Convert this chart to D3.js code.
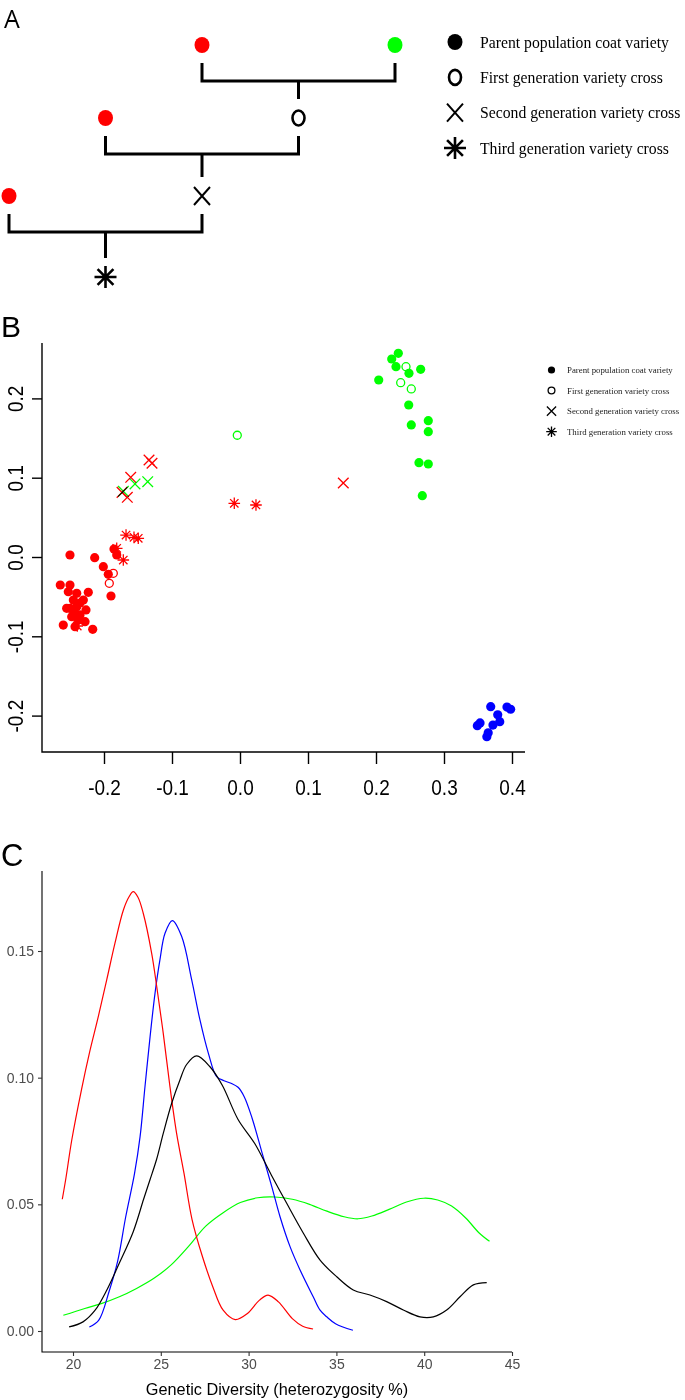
<!DOCTYPE html>
<html><head><meta charset="utf-8">
<script src="https://cdn.jsdelivr.net/npm/d3@7"></script>
<style>body{margin:0;background:#fff}svg{display:block}</style>
</head><body><svg id="c" width="685" height="1400"></svg>
<script>
// ---------- DATA ----------
// Panel A: crossing scheme
const crossNodes = [
  {gen:0, col:2, type:"parent", color:"#ff0000"},
  {gen:0, col:4, type:"parent", color:"#00ff00"},
  {gen:1, col:1, type:"parent", color:"#ff0000"},
  {gen:1, col:3, type:"first",  color:"#000"},
  {gen:2, col:0, type:"parent", color:"#ff0000"},
  {gen:2, col:2, type:"second", color:"#000"},
  {gen:3, col:1, type:"third",  color:"#000"}
];
const crosses = [
  {gen:0, left:2, right:4, child:3},
  {gen:1, left:1, right:3, child:2},
  {gen:2, left:0, right:2, child:1}
];
const legendTypes = ["parent","first","second","third"];
const legendLabels = ["Parent population coat variety","First generation variety cross","Second generation variety cross","Third generation variety cross"];

// Panel B: PCA coordinates [PC1, PC2]
const parentRed = [[-0.250,0.0025],[-0.2137,-0.0009],[-0.201,-0.0122],[-0.1937,-0.0218],[-0.1897,-0.0492],[-0.1853,0.0101],[-0.1813,0.0025],[-0.2643,-0.0353],[-0.250,-0.0353],[-0.2231,-0.0445],[-0.2401,-0.0458],[-0.2525,-0.0438],[-0.2304,-0.0542],[-0.250,-0.0647],[-0.2401,-0.0627],[-0.2475,-0.0753],[-0.2353,-0.0731],[-0.2279,-0.0816],[-0.2599,-0.0858],[-0.2166,-0.0912],[-0.2426,-0.0879],[-0.2378,-0.0794],[-0.2451,-0.0542],[-0.2549,-0.0647],[-0.2353,-0.058],[-0.2441,-0.0694],[-0.2265,-0.0668]];
const parentGreen = [[0.2328,0.2569],[0.2231,0.2497],[0.2294,0.2400],[0.2485,0.2316],[0.2657,0.2367],[0.2040,0.2232],[0.2481,0.1917],[0.2519,0.1665],[0.2769,0.1719],[0.2769,0.1580],[0.2632,0.1189],[0.2769,0.1173],[0.2681,0.0773]];
const parentBlue = [[0.3687,-0.1888],[0.3926,-0.1892],[0.398,-0.192],[0.379,-0.199],[0.382,-0.2077],[0.353,-0.2093],[0.349,-0.2127],[0.372,-0.2119],[0.365,-0.2216],[0.363,-0.2266]];
const firstRed = [[-0.1863,-0.0206],[-0.1922,-0.0332]];
const firstGreen = [[-0.004,0.1535],[0.2441,0.2400],[0.2363,0.2198],[0.2519,0.2119]];
const secondRed = [[-0.1338,0.1223],[-0.1294,0.1182],[-0.1607,0.1005],[-0.1657,0.0753],[-0.1735,0.0815],[0.1519,0.0933]];
const secondGreen = [[-0.1715,0.0828],[-0.1544,0.0921],[-0.1357,0.0950]];
const thirdRed = [[-0.1676,0.0277],[-0.1559,0.0248],[-0.1496,0.0236],[-0.1813,0.011],[-0.1716,-0.0038],[-0.2393,-0.087],[-0.0084,0.0677],[0.0235,0.0656]];
const pcaXTicks = [-0.2,-0.1,0.0,0.1,0.2,0.3,0.4];
const pcaYTicks = [-0.2,-0.1,0.0,0.1,0.2];

// Panel C: density of genetic diversity
const redX = [19.39,19.6,19.93,20.49,20.93,21.44,21.92,22.39,22.87,23.2,23.43,23.7,24.0,24.48,24.77,25.14,25.52,25.9,26.32,26.78,27.37,27.96,28.55,29.24,29.93,30.62,31.11,31.7,32.49,33.08,33.67];
const redY = [0.052,0.0605,0.0754,0.0955,0.1096,0.1241,0.1386,0.1531,0.1662,0.1715,0.1734,0.1712,0.1649,0.1491,0.1359,0.1175,0.0965,0.078,0.0623,0.044,0.0294,0.0175,0.0082,0.0045,0.0069,0.0122,0.0142,0.0115,0.0049,0.0019,0.0008];
const blueX = [20.93,21.46,22.05,22.54,23.0,23.5,23.82,24.1,24.39,24.67,24.95,25.24,25.66,26.19,26.76,27.23,27.71,28.18,28.6,29.0,29.4,29.75,30.2,30.8,31.32,31.79,32.36,32.93,33.68,34.07,34.45,34.95,35.94];
const blueY = [0.0016,0.0042,0.0155,0.0275,0.045,0.062,0.0767,0.0965,0.1162,0.1333,0.1465,0.157,0.162,0.1557,0.1386,0.1228,0.1096,0.1004,0.0988,0.0978,0.0962,0.0925,0.084,0.0695,0.057,0.0451,0.0333,0.0241,0.0135,0.0082,0.0056,0.0029,0.0003];
const blackX = [19.78,20.57,21.26,21.95,22.64,23.43,24.02,24.38,24.77,25.14,25.62,26.09,26.47,27.04,27.8,28.5,29.4,30.35,31.3,32.17,33.12,34.07,35.02,35.96,36.91,37.86,38.81,39.76,40.52,41.28,42.04,42.8,43.56];
const blackY = [0.0016,0.0036,0.0082,0.0165,0.0268,0.0392,0.052,0.0596,0.068,0.078,0.0899,0.0991,0.1052,0.1086,0.1043,0.097,0.0835,0.074,0.0615,0.0504,0.0386,0.028,0.0214,0.0162,0.0142,0.0116,0.0083,0.0056,0.0056,0.0083,0.0135,0.0182,0.0191];
const greenX = [19.45,20.67,21.65,22.64,23.62,24.61,25.59,26.58,27.56,28.55,29.53,30.52,31.5,32.49,33.47,34.46,35.44,36.23,37.02,38.0,38.99,39.98,40.77,41.56,42.35,43.13,43.72];
const greenY = [0.0062,0.0089,0.0109,0.0135,0.0168,0.0208,0.0261,0.0334,0.0414,0.0467,0.0507,0.0526,0.0529,0.052,0.05,0.0473,0.0451,0.0443,0.0454,0.048,0.0509,0.0524,0.0517,0.0493,0.0447,0.0387,0.0354];
const divXTicks = [20,25,30,35,40,45];
const divYTicks = [0,0.05,0.10,0.15];
const divTitle = "Genetic Diversity (heterozygosity %)";

// ---------- DRAW ----------
const svg = d3.select("#c");

function marker(g, type, x, y, color, s, sw) {
  if (type === "parent") {
    g.append("ellipse").attr("cx", x).attr("cy", y).attr("rx", s.r).attr("ry", s.ry || s.r).attr("fill", color);
  } else if (type === "first") {
    g.append("ellipse").attr("cx", x).attr("cy", y).attr("rx", s.o).attr("ry", s.oy || s.o)
      .attr("fill", "none").attr("stroke", color).attr("stroke-width", sw);
  } else if (type === "second") {
    const h = s.x, hy = s.xy || s.x;
    g.append("path").attr("d", `M${x-h},${y-hy}L${x+h},${y+hy}M${x-h},${y+hy}L${x+h},${y-hy}`)
      .attr("stroke", color).attr("stroke-width", sw).attr("fill", "none");
  } else {
    const h = s.a, d = s.a * 0.72;
    g.append("path").attr("d", `M${x-d},${y-d}L${x+d},${y+d}M${x-d},${y+d}L${x+d},${y-d}M${x},${y-h}L${x},${y+h}M${x-h},${y}L${x+h},${y}`)
      .attr("stroke", color).attr("stroke-width", sw).attr("fill", "none");
  }
}

// Panel A
const gA = svg.append("g");
gA.append("text").attr("x", 4).attr("y", 28).text("A")
  .attr("font-family", "Open Sans, DejaVu Sans, sans-serif").attr("font-size", 25).attr("fill", "#000");
const colX = d3.scaleLinear().domain([0, 4]).range([9, 395]);
const genY = d3.scaleLinear().domain([0, 1, 2, 3]).range([45, 118, 196, 277]);
crosses.forEach(c => {
  const y0 = genY(c.gen) + 18, y1 = genY(c.gen) + 36;
  const xl = colX(c.left), xr = colX(c.right), xm = (xl + xr) / 2;
  gA.append("path")
    .attr("d", `M${xl},${y0}V${y1}H${xr}V${y0}M${xm},${y1}V${genY(c.gen+1)-19}`)
    .attr("fill", "none").attr("stroke", "#000").attr("stroke-width", 3);
});
const sA = {r: 7.5, ry: 8, o: 6, oy: 7.5, x: 8, xy: 9, a: 11};
crossNodes.forEach(n => {
  marker(gA, n.type, colX(n.col), genY(n.gen), n.color, sA, n.type === "second" ? 2 : 2.6);
});
const legAy = d3.scaleLinear().domain([0, 3]).range([42, 148]);
legendTypes.forEach((t, i) => {
  marker(gA, t, 455, legAy(i), "#000", sA, t === "second" ? 2 : 2.6);
  gA.append("text").attr("transform", `translate(480,${legAy(i) + 5.5}) scale(0.965,1)`).text(legendLabels[i])
    .attr("font-family", "Liberation Serif, serif").attr("font-size", 16.3).attr("fill", "#000");
});

// Panel B
const gB = svg.append("g");
gB.append("text").attr("x", 1).attr("y", 337).text("B")
  .attr("font-family", "Liberation Sans, Arial, sans-serif").attr("font-size", 30).attr("fill", "#000");
const xB = d3.scaleLinear().domain([-0.2, 0.4]).range([104, 512]);
const yB = d3.scaleLinear().domain([-0.2, 0.2]).range([715.6, 398.4]);
const bx0 = xB.invert(42), bx1 = xB.invert(525), by0 = yB.invert(752), by1 = yB.invert(343);
gB.append("path").attr("d", `M${xB(bx0)},${yB(by1)}V${yB(by0)}H${xB(bx1)}`)
  .attr("fill", "none").attr("stroke", "#000").attr("stroke-width", 1.4);
const axB = gB.append("g").attr("transform", `translate(0,${yB(by0)})`)
  .call(d3.axisBottom(xB).tickValues(pcaXTicks).tickSize(12).tickFormat(d => d.toFixed(1)));
axB.select(".domain").remove();
axB.selectAll("line").attr("stroke", "#000").attr("stroke-width", 1.4);
axB.selectAll("text").attr("font-family", "Liberation Sans, Arial, sans-serif").attr("font-size", 19)
  .attr("fill", "#000").attr("dy", null).attr("y", 0)
  .attr("transform", "translate(0,43) scale(1,1.12)");
const ayB = gB.append("g").attr("transform", `translate(${xB(bx0)},0)`)
  .call(d3.axisLeft(yB).tickValues(pcaYTicks).tickSize(10).tickFormat(d => d.toFixed(1)));
ayB.select(".domain").remove();
ayB.selectAll("line").attr("stroke", "#000").attr("stroke-width", 1.4);
ayB.selectAll("text").attr("font-family", "Liberation Sans, Arial, sans-serif").attr("font-size", 19)
  .attr("fill", "#000").attr("x", null).attr("dy", null).attr("text-anchor", "middle")
  .attr("transform", "translate(-19,0) rotate(-90) scale(1,1.12)");

const pts = gB.append("g").style("isolation", "isolate");
const sB = {r: 4.6, o: 4, x: 5.3, a: 5.8};
const layers = [
  [parentRed, "parent", "#ff0000"], [parentGreen, "parent", "#00ff00"], [parentBlue, "parent", "#0000ff"],
  [firstRed, "first", "#ff0000"], [firstGreen, "first", "#00ff00"],
  [secondRed, "second", "#ff0000"], [secondGreen, "second", "#00ff00"],
  [thirdRed, "third", "#ff0000"]
];
layers.forEach(([arr, type, col]) => {
  const g = pts.append("g").style("mix-blend-mode", "multiply");
  arr.forEach(p => marker(g, type, xB(p[0]), yB(p[1]), col, sB, 1.3));
});
const sBL = {r: 3.6, o: 3.4, x: 4.6, a: 5.3};
const legBy = d3.scaleLinear().domain([0, 3]).range([370, 431.7]);
legendTypes.forEach((t, i) => {
  marker(gB, t, 551.5, legBy(i), "#000", sBL, 1.3);
  gB.append("text").attr("x", 567).attr("y", legBy(i) + 3).text(legendLabels[i])
    .attr("font-family", "Liberation Serif, serif").attr("font-size", 8.8).attr("fill", "#222");
});

// Panel C
const gC = svg.append("g");
gC.append("text").attr("x", 1).attr("y", 866).text("C")
  .attr("font-family", "Liberation Sans, Arial, sans-serif").attr("font-size", 31).attr("fill", "#000");
const xC = d3.scaleLinear().domain([20, 45]).range([73, 512]);
const yC = d3.scaleLinear().domain([0, 0.15]).range([1331, 951]);
const cx0 = xC.invert(42), cy0 = yC.invert(1352), cy1 = yC.invert(871);
gC.append("path").attr("d", `M${xC(cx0)},${yC(cy1)}V${yC(cy0)}H${xC(45)}`)
  .attr("fill", "none").attr("stroke", "#000").attr("stroke-width", 1.1);
const axC = gC.append("g").attr("transform", `translate(0,${yC(cy0)})`)
  .call(d3.axisBottom(xC).tickValues(divXTicks).tickSize(4).tickPadding(3));
axC.select(".domain").remove();
axC.selectAll("line").attr("stroke", "#333").attr("stroke-width", 1.1);
axC.selectAll("text").attr("font-family", "Liberation Sans, Arial, sans-serif").attr("font-size", 14).attr("fill", "#4d4d4d");
const ayC = gC.append("g").attr("transform", `translate(${xC(cx0)},0)`)
  .call(d3.axisLeft(yC).tickValues(divYTicks).tickSize(4).tickPadding(4).tickFormat(d3.format(".2f")));
ayC.select(".domain").remove();
ayC.selectAll("line").attr("stroke", "#333").attr("stroke-width", 1.1);
ayC.selectAll("text").attr("font-family", "Liberation Sans, Arial, sans-serif").attr("font-size", 14).attr("fill", "#4d4d4d");
gC.append("text").attr("x", (xC(cx0) + xC(45)) / 2).attr("y", 1395).attr("text-anchor", "middle").text(divTitle)
  .attr("font-family", "Liberation Sans, Arial, sans-serif").attr("font-size", 16.3).attr("fill", "#000");

const line = d3.line().x(d => xC(d[0])).y(d => yC(d[1])).curve(d3.curveCatmullRom.alpha(0.5));
const series = [
  [greenX, greenY, "#00ff00"], [blueX, blueY, "#0000ff"], [redX, redY, "#ff0000"], [blackX, blackY, "#000000"]
];
series.forEach(([xs, ys, col]) => {
  gC.append("path").datum(xs.map((v, i) => [v, ys[i]])).attr("d", line)
    .attr("fill", "none").attr("stroke", col).attr("stroke-width", 1.2);
});
</script></body></html>
